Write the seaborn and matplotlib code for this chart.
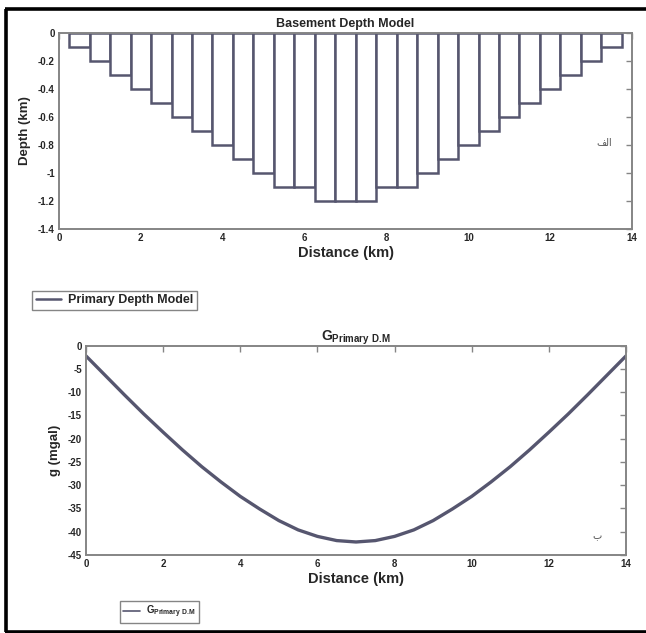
import numpy as np
import pandas as pd
import matplotlib
matplotlib.use("Agg")
import matplotlib.pyplot as plt
from matplotlib.lines import Line2D
import seaborn as sns

# Prism model: block centres (km) and basement depth of each block (km)
block_centres = [0.5, 1.0, 1.5, 2.0, 2.5, 3.0, 3.5, 4.0, 4.5, 5.0, 5.5, 6.0, 6.5, 7.0,
                 7.5, 8.0, 8.5, 9.0, 9.5, 10.0, 10.5, 11.0, 11.5, 12.0, 12.5, 13.0, 13.5]
block_depths = [-0.1, -0.2, -0.3, -0.4, -0.5, -0.6, -0.7, -0.8, -0.9, -1.0, -1.1, -1.1, -1.2, -1.2,
                -1.2, -1.1, -1.1, -1.0, -0.9, -0.8, -0.7, -0.6, -0.5, -0.4, -0.3, -0.2, -0.1]

# Gravity response of the primary depth model
g_distance = [0.0, 0.5, 1.0, 1.5, 2.0, 2.5, 3.0, 3.5, 4.0, 4.5, 5.0, 5.5, 6.0, 6.5, 7.0,
              7.5, 8.0, 8.5, 9.0, 9.5, 10.0, 10.5, 11.0, 11.5, 12.0, 12.5, 13.0, 13.5, 14.0]
g_values = [-2.2, -6.4, -10.6, -14.7, -18.6, -22.4, -26.0, -29.3, -32.4, -35.1, -37.6, -39.6, -41.0, -41.9, -42.2,
            -41.9, -41.0, -39.6, -37.6, -35.1, -32.4, -29.3, -26.0, -22.4, -18.6, -14.7, -10.6, -6.4, -2.2]

depth_xticks = [0, 2, 4, 6, 8, 10, 12, 14]
depth_yticks = [0, -0.2, -0.4, -0.6, -0.8, -1, -1.2, -1.4]
depth_ytick_labels = ["0", "-0.2", "-0.4", "-0.6", "-0.8", "-1", "-1.2", "-1.4"]
g_xticks = [0, 2, 4, 6, 8, 10, 12, 14]
g_yticks = [0, -5, -10, -15, -20, -25, -30, -35, -40, -45]

sns.set_style("white")
plt.rcParams["font.family"] = ["Liberation Sans", "DejaVu Sans"]
plt.rcParams["font.weight"] = "bold"
plt.rcParams["axes.unicode_minus"] = False
plt.rcParams["mathtext.fontset"] = "custom"
plt.rcParams["mathtext.bf"] = "Liberation Sans:bold"
plt.rcParams["mathtext.rm"] = "Liberation Sans:bold"

W, H = 646, 633
fig = plt.figure(figsize=(W / 100, H / 100), dpi=100)
fig.patch.set_facecolor("white")

spine_col = "#858585"
mark_col = "#56566f"

g_label = r"$\mathbf{G}_{\mathbf{Primary\ D.\!M}}$"

def frac_rect(x0, x1, y_top, y_bot):
    return [x0 / W, 1 - y_bot / H, (x1 - x0) / W, (y_bot - y_top) / H]

def style_axes(ax):
    for s in ax.spines.values():
        s.set_color(spine_col)
        s.set_linewidth(1.4)
    ax.tick_params(direction="in", top=True, right=True, length=4, width=1,
                   color=spine_col, labelsize=7, pad=3)
    for lab in ax.get_xticklabels() + ax.get_yticklabels():
        lab.set_fontweight("bold")

# ---- Basement depth model ----
ax1 = fig.add_axes(frac_rect(59, 632, 33, 229))
depth_df = pd.DataFrame({"distance": block_centres, "depth": block_depths})
sns.barplot(data=depth_df, x="distance", y="depth", native_scale=True, width=1.0,
            color="white", saturation=1, edgecolor=mark_col, linewidth=1.8,
            errorbar=None, ax=ax1)
ax1.set_xlim(0, 14)
ax1.set_ylim(-1.4, 0)
ax1.set_xticks(depth_xticks)
ax1.set_xticklabels([str(t) for t in depth_xticks])
ax1.set_yticks(depth_yticks)
ax1.set_yticklabels(depth_ytick_labels)
ax1.set_xlabel("Distance (km)", fontsize=10.5, fontweight="bold", labelpad=2)
ax1.set_ylabel("Depth (km)", fontsize=9.5, fontweight="bold", labelpad=5)
ax1.set_title("Basement Depth Model", fontsize=9, fontweight="bold", pad=4)
style_axes(ax1)
# panel mark (alef-lam-feh, laid out right to left)
ax1.text(604 / W, 1 - 143 / H, "\uFED2\uFEDF\uFE8D", transform=fig.transFigure,
         fontsize=7, fontweight="normal", color="#555555", ha="center", va="center",
         family=["DejaVu Sans"])

leg1 = fig.legend(handles=[Line2D([0], [0], color=mark_col, lw=1.8)],
                  labels=["Primary Depth Model"], loc="lower left",
                  bbox_to_anchor=(32 / W, 1 - 310 / H), fancybox=False,
                  edgecolor=spine_col, framealpha=1, borderpad=0.3,
                  handlelength=2.0, handletextpad=0.6, borderaxespad=0,
                  prop={"size": 9, "weight": "bold"})
leg1.get_frame().set_linewidth(1.0)

# ---- Gravity response ----
ax2 = fig.add_axes(frac_rect(86, 626, 345.7, 555))
g_df = pd.DataFrame({"distance": g_distance, "g": g_values})
sns.lineplot(data=g_df, x="distance", y="g", color=mark_col, lw=2.4, ax=ax2)
ax2.set_xlim(0, 14)
ax2.set_ylim(-45, 0)
ax2.set_xticks(g_xticks)
ax2.set_xticklabels([str(t) for t in g_xticks])
ax2.set_yticks(g_yticks)
ax2.set_yticklabels([str(t) for t in g_yticks])
ax2.set_xlabel("Distance (km)", fontsize=10.5, fontweight="bold", labelpad=2)
ax2.set_ylabel("g (mgal)", fontsize=9.5, fontweight="bold", labelpad=5)
ax2.set_title(g_label, fontsize=10, pad=4)
style_axes(ax2)
ax2.text(597 / W, 1 - 536 / H, "\u0628", transform=fig.transFigure,
         fontsize=7, fontweight="normal", color="#555555", ha="center", va="center",
         family=["DejaVu Sans"])

leg2 = fig.legend(handles=[Line2D([0], [0], color=mark_col, lw=1.2)],
                  labels=[g_label], loc="lower left",
                  bbox_to_anchor=(120 / W, 1 - 623 / H), fancybox=False,
                  edgecolor=spine_col, framealpha=1, borderpad=0.3,
                  handlelength=1.8, handletextpad=0.6, borderaxespad=0,
                  prop={"size": 7})
leg2.get_frame().set_linewidth(1.0)

# ---- outer frame ----
fig.add_artist(Line2D([6 / W, 6 / W], [1 - 9 / H, 1 - 632 / H], transform=fig.transFigure,
                      color="black", lw=2.6, solid_capstyle="butt"))
fig.add_artist(Line2D([5 / W, 1.0], [1 - 9 / H, 1 - 9 / H], transform=fig.transFigure,
                      color="black", lw=2.6, solid_capstyle="butt"))
fig.add_artist(Line2D([5 / W, 1.0], [1 - 632 / H, 1 - 632 / H], transform=fig.transFigure,
                      color="black", lw=2.6, solid_capstyle="butt"))

fig.savefig("out.png", dpi=100)
